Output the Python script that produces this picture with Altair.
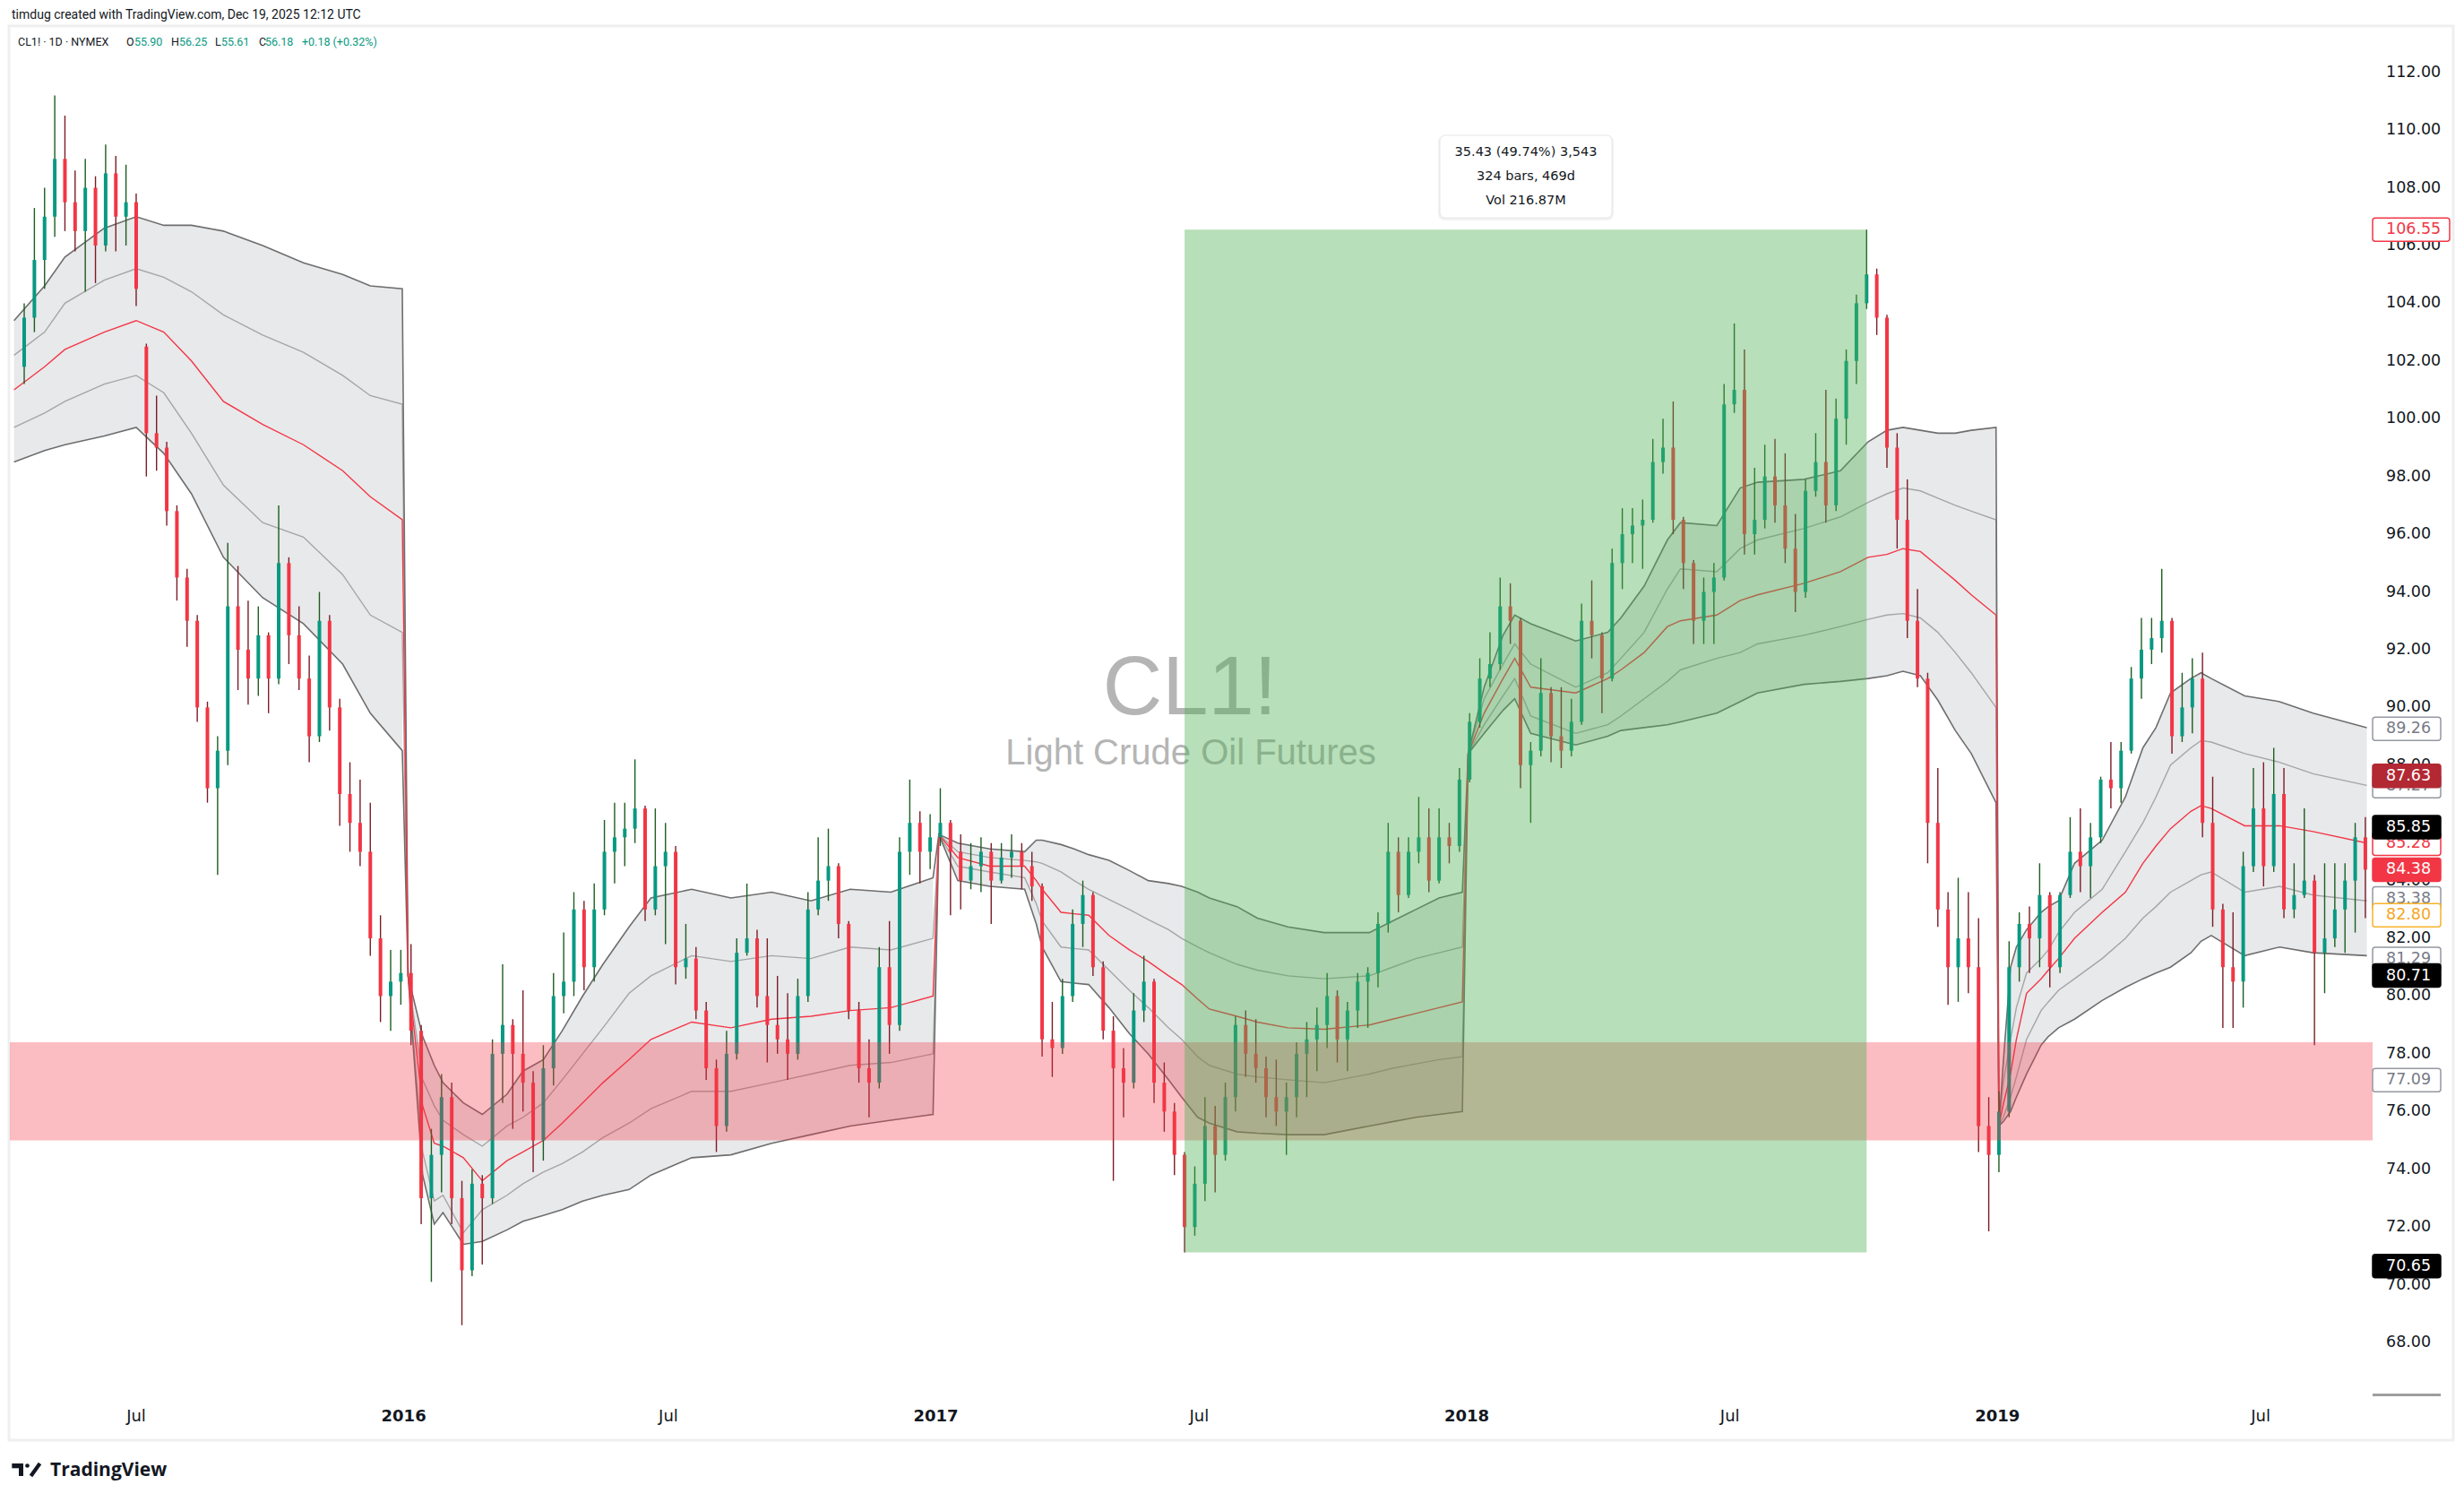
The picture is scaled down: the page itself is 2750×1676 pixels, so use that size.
import altair as alt
import pandas as pd

W, H = 2637, 1526

# ---------------- weekly OHLC ----------------
opens = [101.8,103.5,105.5,107.0,109.0,107.5,106.5,108.0,106.0,108.5,
 107.0,107.5,102.5,99.5,99.0,96.8,94.5,93.0,90.0,87.2,
 88.5,93.5,92.0,91.0,92.5,91.0,95.0,92.5,91.0,89.0,
 93.0,90.0,87.0,86.0,85.0,82.0,80.0,80.5,80.8,78.8,
 73.0,74.5,76.5,73.0,70.5,73.5,73.0,78.0,79.0,78.0,
 77.0,75.0,77.5,80.0,80.5,83.0,81.0,83.0,85.0,85.5,
 85.8,86.5,83.0,84.5,85.0,81.0,81.3,79.5,77.5,75.5,
 78.0,81.5,82.0,80.0,79.0,78.5,78.0,80.0,83.0,84.0,
 84.5,82.5,79.5,77.5,77.0,81.0,79.0,85.0,86.0,85.0,
 85.5,86.0,85.0,84.0,84.5,85.0,84.0,84.8,85.0,84.5,
 83.8,78.5,78.2,80.0,82.5,83.5,81.0,78.8,77.5,77.0,
 79.5,80.5,77.0,76.0,74.5,72.0,73.5,75.5,74.5,76.5,
 79.0,78.0,77.5,76.5,76.0,76.5,78.0,78.5,79.0,80.0,
 78.5,79.5,80.5,80.8,82.5,85.0,83.5,85.0,85.5,84.0,
 85.5,85.2,87.5,89.5,91.0,91.5,93.5,93.0,88.0,88.5,
 90.5,89.0,88.5,89.5,93.0,92.5,91.0,95.0,96.0,96.3,
 96.5,98.5,99.0,96.5,95.0,93.0,94.0,94.5,100.5,101.0,
 96.0,96.5,98.0,97.0,95.5,94.0,97.5,98.5,97.0,100.0,
 102.0,104.0,105.0,103.5,99.0,96.5,93.0,91.0,86.0,83.0,
 81.0,82.0,81.0,75.5,74.5,76.0,81.0,82.5,82.0,83.5,
 81.0,83.5,85.0,84.5,85.5,87.5,87.2,88.5,91.0,92.0,
 92.4,93.0,89.0,90.0,91.0,86.0,83.0,81.0,80.5,84.5,
 86.5,84.5,87.0,83.0,83.5,84.0,81.5,82.0,83.0,84.0,
 85.5]
highs = [104.0,107.3,108.0,111.2,110.5,108.6,109.0,108.4,109.5,109.1,
 108.8,107.8,102.6,100.8,99.2,97.0,94.8,93.2,90.2,89.0,
 95.7,94.9,93.7,93.5,92.6,97.0,95.2,93.5,91.8,94.0,
 93.2,90.3,88.1,87.5,86.7,82.8,81.6,81.6,81.8,79.0,
 75.4,77.3,77.0,73.6,74.0,73.8,78.5,81.1,79.2,80.2,
 77.4,78.3,80.8,82.2,83.6,83.3,83.9,86.1,86.7,86.7,
 88.2,86.6,86.5,86.0,85.2,82.5,81.7,79.8,77.8,78.8,
 82.0,83.9,82.3,82.0,80.7,80.1,80.6,83.6,85.5,85.8,
 84.6,82.6,79.8,78.5,81.7,82.6,85.5,87.5,86.4,86.3,
 87.2,86.1,85.6,85.3,85.5,85.3,85.3,85.6,85.3,85.0,
 83.9,79.8,80.6,83.0,84.0,83.6,81.2,79.3,78.2,80.1,
 81.4,80.6,77.7,76.3,74.6,74.1,76.5,76.2,77.0,79.3,
 79.5,79.2,77.9,77.8,77.0,78.4,79.1,79.6,80.8,80.2,
 79.8,80.8,81.0,82.9,86.0,85.5,85.5,86.9,86.5,86.5,
 86.0,87.9,89.8,91.7,92.6,94.5,94.3,93.1,88.8,91.7,
 90.7,90.7,90.3,93.6,94.4,92.6,95.5,96.9,96.9,97.2,
 99.3,100.0,100.6,96.6,95.1,94.5,95.0,101.2,103.3,102.4,
 98.3,99.1,99.3,98.8,96.7,97.9,99.5,101.0,100.7,102.4,
 104.3,106.55,105.2,103.6,99.5,97.9,94.1,91.2,87.9,83.6,
 84.1,83.6,82.7,76.5,76.7,81.9,82.9,83.1,84.6,83.6,
 83.6,86.2,86.5,86.0,87.6,88.8,88.8,91.4,93.1,93.1,
 94.8,93.1,91.2,91.7,91.9,87.6,83.2,82.9,85.0,87.9,
 88.1,88.6,87.9,84.6,86.5,84.2,84.6,84.6,84.6,86.0,
 86.2]
lows = [101.2,103.0,104.5,106.3,106.5,105.8,104.4,104.7,105.8,105.8,
 106.0,103.9,98.0,98.2,96.3,93.7,92.1,89.5,86.7,84.2,
 88.0,90.6,90.1,90.4,89.8,90.8,91.5,90.6,88.1,88.8,
 89.2,85.9,85.0,84.5,81.4,79.1,78.8,79.7,78.3,72.1,
 70.1,73.2,72.1,68.6,70.3,70.7,72.8,76.3,75.4,76.0,
 73.9,74.3,76.9,79.4,80.0,80.2,80.5,82.8,83.9,84.5,
 85.3,82.6,82.8,81.8,80.4,80.6,79.2,77.1,74.6,75.3,
 77.8,81.4,79.6,77.7,78.0,77.1,77.8,79.8,82.8,83.3,
 82.0,79.2,77.0,75.8,76.8,78.0,78.8,84.2,83.9,84.4,
 85.2,82.8,83.0,83.7,83.6,82.5,83.9,84.1,83.7,83.3,
 77.9,77.2,78.0,79.8,81.7,80.7,78.5,73.6,75.8,76.8,
 79.1,76.3,75.3,73.8,71.12,71.7,72.9,73.2,74.3,76.0,
 77.2,77.0,75.8,75.5,74.5,75.8,76.5,77.4,78.2,77.7,
 77.4,78.9,78.9,80.3,82.2,82.9,83.4,84.6,83.6,83.9,
 84.6,85.0,87.4,89.3,90.7,91.3,92.2,87.2,86.0,88.3,
 88.1,87.9,88.3,89.4,91.7,89.8,90.9,94.1,95.0,94.8,
 96.4,98.1,96.0,94.1,92.2,92.2,92.2,94.4,100.2,95.3,
 95.3,96.2,96.4,95.0,93.3,93.8,97.3,96.4,96.8,99.1,
 101.2,103.8,102.9,98.3,95.5,92.4,90.7,84.6,82.4,79.7,
 79.8,80.1,74.6,71.85,73.9,75.8,80.5,80.8,81.0,80.3,
 80.8,83.4,83.6,83.4,85.3,86.5,86.7,88.4,90.3,91.5,
 91.9,88.4,88.8,89.1,85.5,82.4,78.9,78.9,79.6,84.3,
 83.8,84.3,82.7,82.7,83.4,78.3,80.1,81.7,81.5,82.2,
 82.7]
closes = [103.5,105.5,107.0,109.0,107.5,106.5,108.0,106.0,108.5,107.0,
 107.5,104.5,99.5,99.0,96.8,94.5,93.0,90.0,87.2,88.5,
 93.5,92.0,91.0,92.5,91.0,95.0,92.5,91.0,89.0,93.0,
 90.0,87.0,86.0,85.0,82.0,80.0,80.5,80.8,78.8,73.0,
 74.5,76.5,73.0,70.5,73.5,73.0,78.0,79.0,78.0,77.0,
 75.0,77.5,80.0,80.5,83.0,81.0,83.0,85.0,85.5,85.8,
 86.5,83.0,84.5,85.0,81.0,81.3,79.5,77.5,75.5,78.0,
 81.5,82.0,80.0,79.0,78.5,78.0,80.0,83.0,84.0,84.5,
 82.5,79.5,77.5,77.0,81.0,79.0,85.0,86.0,85.0,85.5,
 86.0,85.0,84.0,84.5,85.0,84.0,84.8,85.0,84.5,83.8,
 78.5,78.2,80.0,82.5,83.5,81.0,78.8,77.5,77.0,79.5,
 80.5,77.0,76.0,74.5,72.0,73.5,75.5,74.5,76.5,79.0,
 78.0,77.5,76.5,76.0,76.5,78.0,78.5,79.0,80.0,78.5,
 79.5,80.5,80.8,82.5,85.0,83.5,85.0,85.5,84.0,85.5,
 85.2,87.5,89.5,91.0,91.5,93.5,93.0,88.0,88.5,90.5,
 89.0,88.5,89.5,93.0,92.5,91.0,95.0,96.0,96.3,96.5,
 98.5,99.0,96.5,95.0,93.0,94.0,94.5,100.5,101.0,96.0,
 96.5,98.0,97.0,95.5,94.0,97.5,98.5,97.0,100.0,102.0,
 104.0,105.0,103.5,99.0,96.5,93.0,91.0,86.0,83.0,81.0,
 82.0,81.0,75.5,74.5,76.0,81.0,82.5,82.0,83.5,81.0,
 83.5,85.0,84.5,85.5,87.5,87.2,88.5,91.0,92.0,92.4,
 93.0,89.0,90.0,91.0,86.0,83.0,81.0,80.5,84.5,86.5,
 84.5,87.0,83.0,83.5,84.0,81.5,82.0,83.0,84.0,85.5,
 84.38]

# ---------------- yearly anchored VWAP bands ----------------
b15_dates = ["2015-04-08","2015-04-29","2015-05-13","2015-06-09","2015-07-01","2015-07-20","2015-08-08",
             "2015-08-30","2015-09-26","2015-10-24","2015-11-20","2015-12-09","2015-12-31"]
b15_up  = [103.4,104.6,105.6,106.6,107.0,106.7,106.7,106.5,106.0,105.4,105.0,104.6,104.5]
b15_um  = [102.2,103.0,104.0,104.8,105.2,104.9,104.4,103.6,102.9,102.3,101.5,100.8,100.5]
b15_mid = [101.0,101.8,102.4,103.0,103.4,103.0,102.0,100.6,99.8,99.1,98.2,97.3,96.5]
b15_lm  = [99.7,100.2,100.6,101.2,101.5,100.9,99.5,97.7,96.4,95.9,94.6,93.2,92.6]
b15_lo  = [98.5,98.9,99.1,99.4,99.7,98.8,97.4,95.2,93.8,92.9,91.5,89.8,88.5]

b16_dates = ["2016-01-04","2016-01-14","2016-01-22","2016-01-28","2016-02-11","2016-02-24","2016-03-12",
             "2016-03-23","2016-04-06","2016-04-19","2016-05-03","2016-05-17","2016-06-04","2016-06-19",
             "2016-07-17","2016-08-13","2016-09-10","2016-10-07","2016-11-03","2016-12-01","2016-12-30"]
b16_up  = [80.7,78.6,77.6,77.0,76.3,75.9,76.6,77.4,77.8,78.8,80.0,81.1,82.4,83.4,83.7,83.4,83.6,83.3,83.7,83.6,84.1]
b16_um  = [80.7,77.1,76.2,75.7,75.2,74.8,75.5,75.8,76.3,77.1,78.0,78.9,80.1,80.7,81.4,81.2,81.4,81.3,81.7,81.6,82.0]
b16_mid = [80.7,76.2,74.9,74.8,74.4,73.6,74.3,74.6,75.0,75.6,76.3,77.0,77.8,78.5,79.1,78.9,79.2,79.3,79.5,79.6,80.0]
b16_lm  = [80.7,74.6,72.9,73.1,71.8,72.6,73.1,73.5,73.9,74.2,74.6,75.1,75.6,76.1,76.7,76.7,77.0,77.3,77.6,77.7,78.0]
b16_lo  = [80.7,73.8,72.1,72.5,71.4,71.5,71.9,72.2,72.4,72.6,72.9,73.1,73.3,73.8,74.4,74.5,74.9,75.2,75.5,75.7,75.9]

b17_dates = ["2017-01-03","2017-01-16","2017-02-07","2017-03-03","2017-03-11","2017-03-15","2017-03-28",
             "2017-04-06","2017-04-16","2017-04-30","2017-05-14","2017-05-27","2017-06-10","2017-06-19",
             "2017-06-30","2017-07-08","2017-07-27","2017-08-10","2017-08-31","2017-09-25","2017-10-26",
             "2017-11-11","2017-11-27","2017-12-13","2017-12-29"]
b17_up  = [85.6,85.3,85.1,85.0,85.4,85.4,85.25,85.1,84.9,84.7,84.35,84.0,83.9,83.8,83.6,83.4,83.1,82.7,82.4,82.2,82.2,82.6,83.0,83.4,83.6]
b17_um  = [85.6,85.0,84.8,84.7,84.65,84.6,84.3,84.0,83.7,83.35,83.0,82.65,82.3,82.0,81.7,81.5,81.1,80.9,80.7,80.6,80.7,81.0,81.3,81.5,81.7]
b17_mid = [85.6,84.8,84.5,84.5,84.0,83.7,82.9,82.85,82.8,82.1,81.6,81.2,80.7,80.4,79.9,79.55,79.3,79.1,78.9,78.85,79.0,79.2,79.4,79.6,79.8]
b17_lm  = [85.6,84.5,84.3,84.1,83.2,82.6,81.7,81.65,81.6,80.9,80.2,79.6,78.9,78.5,77.9,77.6,77.3,77.2,77.1,77.0,77.3,77.5,77.65,77.8,77.9]
b17_lo  = [85.6,84.0,83.8,83.7,82.5,81.7,80.5,80.45,80.4,79.6,78.7,78.0,77.1,76.5,75.8,75.6,75.3,75.25,75.2,75.2,75.5,75.65,75.8,75.9,76.0]

b18_dates = ["2018-01-02","2018-01-13","2018-01-26","2018-02-03","2018-02-14","2018-03-17","2018-04-08",
             "2018-04-17","2018-05-03","2018-05-19","2018-05-28","2018-06-22","2018-07-08","2018-07-20",
             "2018-08-21","2018-09-15","2018-10-04","2018-10-17","2018-10-28","2018-11-09","2018-11-21",
             "2018-12-03","2018-12-14","2018-12-31"]
b18_up  = [88.4,90.7,92.5,93.2,92.9,92.3,92.6,93.1,94.2,95.8,96.4,96.3,97.6,97.8,97.9,98.2,99.2,99.6,99.7,99.6,99.5,99.5,99.6,99.7]
b18_um  = [88.4,90.3,91.5,92.2,91.5,90.7,91.2,91.7,92.6,94.1,94.8,94.7,95.5,95.8,96.2,96.6,97.1,97.4,97.6,97.5,97.25,97.0,96.8,96.5]
b18_mid = [88.4,89.8,91.0,91.7,90.7,90.5,91.0,91.3,91.9,92.8,93.0,93.2,93.7,93.9,94.3,94.7,95.2,95.3,95.5,95.4,94.9,94.4,93.9,93.2]
b18_lm  = [88.4,89.4,90.4,91.0,89.7,89.1,89.4,89.7,90.3,90.9,91.3,91.7,91.9,92.2,92.5,92.8,93.05,93.2,93.25,93.1,92.6,91.9,91.2,90.0]
b18_lo  = [88.4,89.1,89.9,90.3,89.1,88.7,89.0,89.2,89.3,89.4,89.5,89.8,90.2,90.5,90.8,90.9,91.0,91.1,91.25,91.1,90.25,89.2,88.4,86.7]

b19_dates = ["2019-01-02","2019-01-05","2019-01-10","2019-01-14","2019-01-21","2019-01-31","2019-02-05",
             "2019-02-12","2019-02-23","2019-03-14","2019-03-30","2019-04-11","2019-04-20","2019-04-30",
             "2019-05-14","2019-05-21","2019-05-28","2019-06-20","2019-07-14","2019-08-06","2019-09-12"]
b19_up  = [75.5,77.7,81.0,81.7,82.3,82.9,83.1,83.3,84.6,85.4,86.9,88.6,89.3,90.5,91.0,91.2,91.0,90.4,90.2,89.8,89.3]
b19_um  = [75.5,77.0,78.5,79.6,80.8,81.3,81.6,82.2,82.9,83.7,85.0,86.0,86.9,88.0,88.6,88.85,88.8,88.4,88.1,87.7,87.3]
b19_mid = [75.5,76.25,77.3,78.5,80.1,80.6,80.9,81.3,82.0,82.9,83.6,84.6,85.2,85.8,86.4,86.6,86.5,85.9,85.9,85.7,85.3]
b19_lm  = [75.5,75.8,76.5,77.2,78.5,79.5,79.8,80.2,80.6,81.3,82.0,82.7,83.1,83.6,84.0,84.2,84.3,83.6,83.8,83.5,83.3]
b19_lo  = [75.5,75.65,76.0,76.5,77.3,78.3,78.6,78.9,79.2,79.85,80.3,80.6,80.8,81.0,81.5,81.9,82.1,81.4,81.7,81.5,81.4]

# ---------------- zones, labels, ticks ----------------
zone_lo, zone_hi = 75.0, 78.4
meas_start, meas_end = "2017-06-21", "2018-10-03"
meas_lo, meas_hi = 71.12, 106.55
meas_lines = ["35.43 (49.74%) 3,543", "324 bars, 469d", "Vol 216.87M"]

price_ticks = [68, 70, 72, 74, 76, 78, 80, 82, 84, 86, 88, 90, 92, 94, 96, 98, 100, 102, 104, 106, 108, 110, 112]
time_tick_dates = ["2015-07-01", "2016-01-01", "2016-07-01", "2017-01-01", "2017-07-01",
                   "2018-01-01", "2018-07-01", "2019-01-01", "2019-07-01"]
time_tick_text = ["Jul", "2016", "Jul", "2017", "Jul", "2018", "Jul", "2019", "Jul"]

label_prices = [87.27, 85.28, 83.38, 89.26, 81.29, 77.09, 106.55, 82.80, 85.85, 80.71, 70.65, 87.63, 84.38]
label_kinds = ["gray", "redline", "gray", "gray", "gray", "gray", "redline", "orange",
               "black", "black", "black", "darkred", "red"]

# ---------------- frames ----------------
dates = pd.date_range("2015-04-15", periods=len(closes), freq="7D").strftime("%Y-%m-%d")
candles = pd.DataFrame({"date": dates, "open": opens, "high": highs, "low": lows, "close": closes})
up_c = candles[candles["close"] >= candles["open"]]
dn_c = candles[candles["close"] < candles["open"]]

frames = []
for yr, d, u, um, md, lm, lo in [
    ("2015", b15_dates, b15_up, b15_um, b15_mid, b15_lm, b15_lo),
    ("2016", b16_dates, b16_up, b16_um, b16_mid, b16_lm, b16_lo),
    ("2017", b17_dates, b17_up, b17_um, b17_mid, b17_lm, b17_lo),
    ("2018", b18_dates, b18_up, b18_um, b18_mid, b18_lm, b18_lo),
    ("2019", b19_dates, b19_up, b19_um, b19_mid, b19_lm, b19_lo),
]:
    frames.append(pd.DataFrame({"date": d, "year": yr, "up": u, "um": um, "mid": md, "lm": lm, "lo": lo}))
bands = pd.concat(frames, ignore_index=True)
bands_long = bands.melt(id_vars=["date", "year"], var_name="line", value_name="value")

xscale = alt.Scale(type="utc", domain=[
    alt.DateTime(year=2015, month=4, date=8, hours=5, utc=True),
    alt.DateTime(year=2019, month=9, date=12, hours=21, minutes=36, utc=True)])
yscale = alt.Scale(domain=[66.2, 113.574], nice=False, zero=False)
X = alt.X("date:T", scale=xscale, axis=None)


def Y(f):
    return alt.Y(f, scale=yscale, axis=None)


one = pd.DataFrame({"k": [0]})


def txt(s, x, y, size, color, weight="normal", align="left", baseline="middle", font="Roboto"):
    return alt.Chart(one).mark_text(text=s, fontSize=size, color=color, fontWeight=weight, align=align,
                                    baseline=baseline, font=font).encode(x=alt.value(x), y=alt.value(y))


def box(x1, x2, y1, y2, **kw):
    return alt.Chart(one).mark_rect(**kw).encode(x=alt.value(x1), x2=alt.value(x2),
                                                 y=alt.value(y1), y2=alt.value(y2))


layers = []
# frame
layers.append(box(-1, 2727, -1, 1577, fillOpacity=0, stroke="#efefef", strokeWidth=3))
# watermark
layers.append(txt("CL1!", 1317, 767, 92, "#b5b5b5", align="center", baseline="alphabetic", font="Liberation Sans"))
layers.append(txt("Light Crude Oil Futures", 1318, 823, 40, "#b5b5b5", align="center", baseline="alphabetic",
                  font="Liberation Sans"))

# band fill
layers.append(alt.Chart(bands).mark_area(color="#787b86", opacity=0.17, clip=True).encode(
    x=X, y=Y("lo:Q"), y2="up:Q", detail="year:N"))
# band lines
for names, col, sw in [(["um", "lm"], "#a5a5a5", 1.4), (["up", "lo"], "#6e6e6e", 1.6), (["mid"], "#f23645", 1.4)]:
    layers.append(alt.Chart(bands_long).transform_filter(
        alt.FieldOneOfPredicate(field="line", oneOf=names)).mark_line(
        color=col, strokeWidth=sw, clip=True).encode(x=X, y=Y("value:Q"), detail="line:N"))

# candles
layers.append(alt.Chart(up_c).mark_rule(color="#1b5e20", strokeWidth=1.4).encode(x=X, y=Y("low:Q"), y2="high:Q"))
layers.append(alt.Chart(dn_c).mark_rule(color="#7b1c26", strokeWidth=1.4).encode(x=X, y=Y("low:Q"), y2="high:Q"))
layers.append(alt.Chart(up_c).mark_bar(color="#089981", width=4).encode(x=X, y=Y("open:Q"), y2="close:Q"))
layers.append(alt.Chart(dn_c).mark_bar(color="#f23645", width=4).encode(x=X, y=Y("open:Q"), y2="close:Q"))

# support zone
layers.append(alt.Chart(pd.DataFrame({"lo": [zone_lo], "hi": [zone_hi]})).mark_rect(
    color="#f23645", opacity=0.33).encode(x=alt.value(0), x2=alt.value(W), y=Y("lo:Q"), y2="hi:Q"))
# measure rectangle
layers.append(alt.Chart(pd.DataFrame({"s": [meas_start], "e": [meas_end], "lo": [meas_lo], "hi": [meas_hi]}))
              .mark_rect(color="#4caf50", opacity=0.4).encode(
    x=alt.X("s:T", scale=xscale, axis=None), x2="e:T", y=Y("lo:Q"), y2="hi:Q"))

# measure info box
layers.append(box(1594, 1790, 121, 216, fill="#000000", opacity=0.05, cornerRadius=7))
layers.append(box(1596, 1788, 121, 213, fill="#ffffff", stroke="#e6e6e6", strokeWidth=1, cornerRadius=6))
for i, s in enumerate(meas_lines):
    layers.append(txt(s, 1692, 140 + i * 27, 14.5, "#131722", align="center", font="DejaVu Sans"))

# price scale ticks
layers.append(alt.Chart(pd.DataFrame({"v": price_ticks})).mark_text(
    align="left", baseline="middle", font="DejaVu Sans", fontSize=17.5, color="#131722").encode(
    x=alt.value(W + 15), y=Y("v:Q"), text=alt.Text("v:Q", format=".2f")))

styles = {
    "gray": ("#ffffff", "#9598a1", "#787b86"),
    "redline": ("#ffffff", "#f23645", "#f23645"),
    "orange": ("#ffffff", "#f7b32b", "#f5a623"),
    "black": ("#000000", "#000000", "#ffffff"),
    "darkred": ("#b22833", "#b22833", "#ffffff"),
    "red": ("#f23645", "#f23645", "#ffffff"),
}
for p, k in zip(label_prices, label_kinds):
    fill, stroke, tcol = styles[k]
    wid = 86 if p >= 100 else 76
    d = pd.DataFrame({"p": [p]})
    layers.append(alt.Chart(d).transform_calculate(lo="datum.p - 0.404", hi="datum.p + 0.404").mark_rect(
        fill=fill, stroke=stroke, strokeWidth=1.5, cornerRadius=3).encode(
        x=alt.value(W), x2=alt.value(W + wid), y=Y("lo:Q"), y2="hi:Q"))
    layers.append(alt.Chart(d).mark_text(align="left", baseline="middle", font="DejaVu Sans",
                                         fontSize=17.5, color=tcol).encode(
        x=alt.value(W + 15), y=Y("p:Q"), text=alt.Text("p:Q", format=".2f")))

# price scale bottom edge
layers.append(box(W, W + 76, H - 1, H + 2, fill="#9e9e9e"))

# time axis labels
tt = pd.DataFrame({"date": time_tick_dates, "t": time_tick_text})
tt["bold"] = tt["t"] != "Jul"
layers.append(alt.Chart(tt[~tt["bold"]]).mark_text(font="DejaVu Sans", fontSize=18, color="#131722",
                                                    baseline="middle").encode(
    x=X, y=alt.value(H + 25), text="t:N"))
layers.append(alt.Chart(tt[tt["bold"]]).mark_text(font="DejaVu Sans", fontSize=18, fontWeight="bold",
                                                   color="#131722", baseline="middle").encode(
    x=X, y=alt.value(H + 25), text="t:N"))

# header texts
layers.append(txt("timdug created with TradingView.com, Dec 19, 2025 12:12 UTC", 2, -13, 14, "#131722"))
green = "#089981"
for s, x, c in [("CL1! · 1D · NYMEX", 9, "#131722"), ("O", 130, "#131722"), ("55.90", 139, green),
                ("H", 180, "#131722"), ("56.25", 189, green), ("L", 229, "#131722"), ("55.61", 236, green),
                ("C", 278, "#131722"), ("56.18", 285, green), ("+0.18 (+0.32%)", 326, green)]:
    layers.append(txt(s, x, 17, 12.5, c))

# TradingView logo (bar + stem, dot, slash) and wordmark
layers.append(box(2.3, 15, 1603, 1608.3, fill="#131722"))
layers.append(box(10, 15, 1603, 1617, fill="#131722"))
layers.append(alt.Chart(one).mark_point(shape="circle", filled=True, size=22, color="#131722", opacity=1).encode(
    x=alt.value(19.5), y=alt.value(1605.5)))
layers.append(alt.Chart(one).mark_rule(color="#131722", strokeWidth=4.2).encode(
    x=alt.value(23.5), x2=alt.value(33.5), y=alt.value(1617), y2=alt.value(1603)))
layers.append(txt("TradingView", 45, 1617, 21, "#131722", weight="bold", baseline="alphabetic", font="Open Sans"))

chart = alt.layer(*layers).properties(
    width=W, height=H,
    autosize=alt.AutoSizeParams(type="none"),
    padding={"left": 3, "top": 22, "right": 94, "bottom": 112},
    background="white",
).configure_view(stroke=None)

chart.save("out.html", embed_options={"renderer": "svg", "actions": False})
